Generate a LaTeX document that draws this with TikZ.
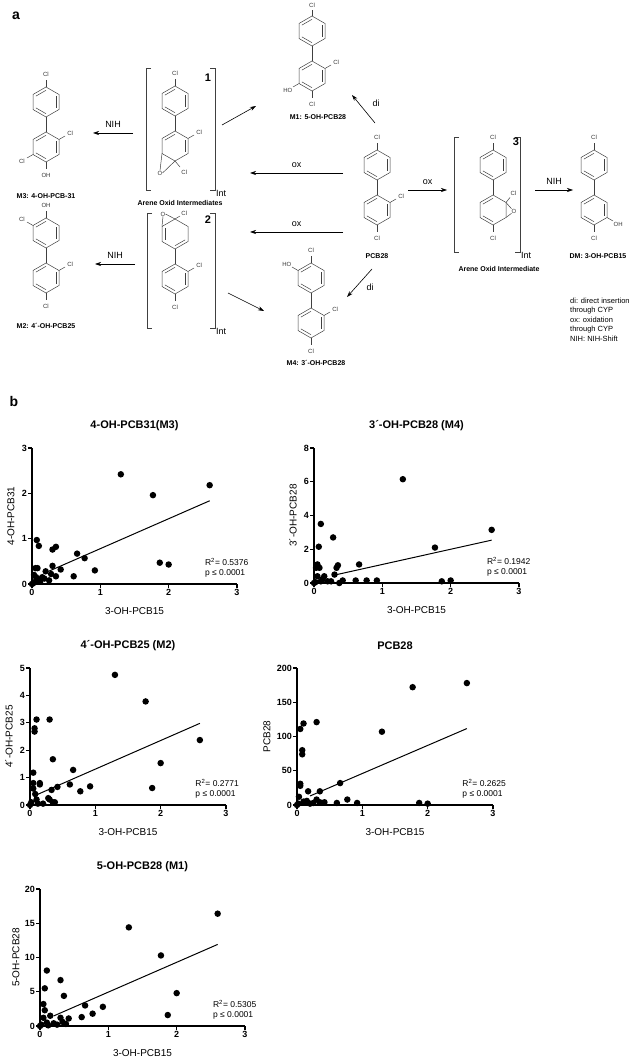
\documentclass[tikz,border=0pt]{standalone}
\usepackage{fontspec}
\setmainfont{Liberation Sans}
\usetikzlibrary{calc,arrows.meta}
\newcommand{\hexring}[3]{%
 \path (#2,#3) coordinate (#1) +(0,-15) coordinate (#1-1) +(13,-7.5) coordinate (#1-2)
   +(13,7.5) coordinate (#1-3) +(0,15) coordinate (#1-4) +(-13,7.5) coordinate (#1-5)
   +(-13,-7.5) coordinate (#1-6);
 \draw[bond] (#1-1)--(#1-2)--(#1-3)--(#1-4)--(#1-5)--(#1-6)--cycle;}
\newcommand{\dbl}[3]{\draw[bond] ($(#1-#2)!0.22!(#1)$) -- ($(#1-#3)!0.22!(#1)$);}
\newcommand{\arom}[1]{\dbl{#1}{2}{3}\dbl{#1}{4}{5}\dbl{#1}{6}{1}}
\newcommand{\subst}[5]{\draw[bond] (#1) -- ++(#2,#3); \node[chem] (#5) at ($(#1)+1.85*(#2,#3)$) {#4};}
\newcommand{\brk}[4]{\draw[bond] (#1+5,#2) -- (#1,#2) -- (#1,#4) -- (#1+5,#4);
 \draw[bond] (#3-5,#2) -- (#3,#2) -- (#3,#4) -- (#3-5,#4);}
\newcommand{\plotaxes}[4]{%
 \draw[axis] (0,#1) -- (0,0) -- (3,0);
 \foreach \t in {0,1,2,3} \draw[axis] (\t,0) -- ++(0pt,-4pt) node[below=-1pt,ticklab] {\t};
 \foreach \t in {0,#2,...,#1} \draw[axis] (0,\t) -- ++(-4pt,0pt) node[left=-1pt,ticklab] {\t};
 \node[axlab] at ($(1.5,0)+(0pt,-27pt)$) {3-OH-PCB15};
 \node[axlab,rotate=90] at ($(0,#1/2)+(-#4pt,0pt)$) {#3};}
\tikzset{
 bond/.style={line width=0.5pt,draw=black!75},
 chem/.style={font=\fontsize{6}{6}\selectfont,inner sep=0pt,text=black!80},
 mlab/.style={font=\bfseries\fontsize{7}{7}\selectfont,inner sep=0pt},
 rlab/.style={font=\fontsize{9}{9}\selectfont,inner sep=0pt},
 num/.style={font=\bfseries\fontsize{11}{11}\selectfont,inner sep=0pt},
 arr/.style={line width=0.6pt,-{Stealth[length=6pt,width=4pt]}},
 axis/.style={line width=1.3pt},
 ticklab/.style={font=\bfseries\fontsize{9}{9}\selectfont,inner sep=1.5pt},
 axlab/.style={font=\fontsize{10}{10}\selectfont,inner sep=0pt},
 ptitle/.style={font=\bfseries\fontsize{11}{11}\selectfont,inner sep=0pt},
 stat/.style={font=\fontsize{8.5}{10}\selectfont,align=left,inner sep=0pt,anchor=south west},
 dot/.style={circle,fill=black,inner sep=0pt,minimum size=6.5pt},
 fitl/.style={line width=1pt},
 leg/.style={font=\fontsize{7.5}{9}\selectfont,align=left,anchor=north west,inner sep=0pt}
}
\begin{document}
\begin{tikzpicture}[x=1pt,y=-1pt]
\useasboundingbox (0,0) rectangle (644,1059);
\node[font=\bfseries\fontsize{14}{14}\selectfont] (pa) at (16,16) {a};
\node[font=\bfseries\fontsize{14}{14}\selectfont] (pb) at (14,401) {b};
% M3
\hexring{m3t}{46}{102}\arom{m3t}\hexring{m3b}{46}{147}\arom{m3b}
\draw[bond] (m3t-4)--(m3b-1);
\subst{m3t-1}{0}{-7}{Cl}{c1}\subst{m3b-2}{6}{-3.5}{Cl}{c2}\subst{m3b-5}{-6}{3.5}{Cl}{c3}\subst{m3b-4}{0}{7}{OH}{c4}
\node[mlab] (m3l) at (46,196) {M3: 4-OH-PCB-31};
% M2
\hexring{m2t}{46}{233}\arom{m2t}\hexring{m2b}{46}{278}\arom{m2b}
\draw[bond] (m2t-4)--(m2b-1);
\subst{m2t-1}{0}{-7}{OH}{c5}\subst{m2t-6}{-6}{-3.5}{Cl}{c6}\subst{m2b-2}{6}{-3.5}{Cl}{c7}\subst{m2b-4}{0}{7}{Cl}{c8}
\node[mlab] (m2l) at (46,326) {M2: 4´-OH-PCB25};
% Int 1
\brk{146}{68}{215}{190}
\hexring{i1t}{175}{101}\arom{i1t}\hexring{i1b}{175}{146}\dbl{i1b}{6}{1}\dbl{i1b}{2}{3}
\draw[bond] (i1t-4)--(i1b-1);
\subst{i1t-1}{0}{-7}{Cl}{c9}\subst{i1b-2}{6}{-3.5}{Cl}{c10}
\node[chem] (o1) at (160,173) {O};
\draw[bond] (i1b-5) -- (o1.north) (o1.east) -- (i1b-4);
\subst{i1b-4}{5}{6}{Cl}{c11}
\node[num] (n1) at (208,78) {1};
\node[rlab,anchor=west] (int1) at (216,193) {Int};
\node[mlab] (aoi) at (180,203) {Arene Oxid Intermediates};
% Int 2
\brk{147}{213}{215}{328}
\hexring{i2t}{175}{234}\dbl{i2t}{5}{6}\dbl{i2t}{3}{4}\hexring{i2b}{175}{279}\arom{i2b}
\draw[bond] (i2t-4)--(i2b-1);
\node[chem] (o2) at (163,214) {O};
\draw[bond] (i2t-6) -- (o2.south) (o2.east) -- (i2t-1);
\subst{i2t-1}{5}{-3}{Cl}{c12}
\subst{i2b-2}{6}{-3.5}{Cl}{c13}\subst{i2b-4}{0}{7}{Cl}{c14}
\node[num] (n2) at (208,220) {2};
\node[rlab,anchor=west] (int2) at (216,331) {Int};
% M1
\hexring{m1t}{312}{31}\arom{m1t}\hexring{m1b}{312}{76}\arom{m1b}
\draw[bond] (m1t-4)--(m1b-1);
\subst{m1t-1}{0}{-6}{Cl}{c15}\subst{m1b-2}{6}{-3.5}{Cl}{c16}\subst{m1b-5}{-6}{3.5}{HO}{c17}\subst{m1b-4}{0}{7}{Cl}{c18}
\node[mlab] (m1l) at (318,117) {M1: 5-OH-PCB28};
% M4
\hexring{m4t}{311}{278}\arom{m4t}\hexring{m4b}{311}{323}\arom{m4b}
\draw[bond] (m4t-4)--(m4b-1);
\subst{m4t-1}{0}{-7}{Cl}{c19}\subst{m4t-6}{-6}{-3.5}{HO}{c20}\subst{m4b-2}{6}{-3.5}{Cl}{c21}\subst{m4b-4}{0}{7}{Cl}{c22}
\node[mlab] (m4l) at (316,363) {M4: 3´-OH-PCB28};
% PCB28
\hexring{pt}{377}{165}\arom{pt}\hexring{pb}{377}{210}\arom{pb}
\draw[bond] (pt-4)--(pb-1);
\subst{pt-1}{0}{-7}{Cl}{c23}\subst{pb-2}{6}{-3.5}{Cl}{c24}\subst{pb-4}{0}{7}{Cl}{c25}
\node[mlab] (pcl) at (377,256) {PCB28};
% Int 3
\brk{454}{137}{520}{252}
\hexring{i3t}{493}{165}\arom{i3t}\hexring{i3b}{493}{210}\dbl{i3b}{6}{1}\dbl{i3b}{4}{5}
\draw[bond] (i3t-4)--(i3b-1);
\subst{i3t-1}{0}{-7}{Cl}{c26}\subst{i3b-2}{4}{-5}{Cl}{c27}\subst{i3b-4}{0}{7}{Cl}{c28}
\node[chem] (o3) at (514,211) {O};
\draw[bond] (i3b-2) -- (o3.north west) (o3.south west) -- (i3b-3);
\node[num] (n3) at (516,142) {3};
\node[rlab,anchor=west] (int3) at (521,255) {Int};
\node[mlab] (aoi3) at (499,269) {Arene Oxid Intermediate};
% DM
\hexring{dt}{594}{165}\arom{dt}\hexring{db}{594}{210}\arom{db}
\draw[bond] (dt-4)--(db-1);
\subst{dt-1}{0}{-7}{Cl}{c29}\subst{db-3}{6}{3.5}{OH}{c30}\subst{db-4}{0}{7}{Cl}{c31}
\node[mlab] (dml) at (598,256) {DM: 3-OH-PCB15};
% arrows
\coordinate (a1s) at (133,133); \coordinate (a1e) at (93,133);
\draw[arr] (a1s) -- (a1e) node[rlab,midway,above=5pt] {NIH};
\coordinate (a2s) at (135,264); \coordinate (a2e) at (95,264);
\draw[arr] (a2s) -- (a2e) node[rlab,midway,above=5pt] {NIH};
\coordinate (a3s) at (222,125); \coordinate (a3e) at (256,106);
\draw[arr] (a3s) -- (a3e);
\coordinate (a4s) at (343,173); \coordinate (a4e) at (250,173);
\draw[arr] (a4s) -- (a4e) node[rlab,midway,above=5pt] {ox};
\coordinate (a5s) at (343,232); \coordinate (a5e) at (250,232);
\draw[arr] (a5s) -- (a5e) node[rlab,midway,above=5pt] {ox};
\coordinate (a6s) at (228,293); \coordinate (a6e) at (264,311);
\draw[arr] (a6s) -- (a6e);
\coordinate (a7s) at (375,123); \coordinate (a7e) at (352,95);
\draw[arr] (a7s) -- (a7e); \node[rlab] (di1) at (376,103) {di};
\coordinate (a8s) at (372,269); \coordinate (a8e) at (347,297);
\draw[arr] (a8s) -- (a8e); \node[rlab] (di2) at (370,287) {di};
\coordinate (a9s) at (408,190); \coordinate (a9e) at (447,190);
\draw[arr] (a9s) -- (a9e) node[rlab,midway,above=5pt] {ox};
\coordinate (a10s) at (535,190); \coordinate (a10e) at (573,190);
\draw[arr] (a10s) -- (a10e) node[rlab,midway,above=5pt] {NIH};
\node[leg] (lg) at (570,298) {di: direct insertion\\through CYP\\[1pt]ox: oxidation\\through CYP\\[1pt]NIH: NIH-Shift};
% ---------- plots
\begin{scope}[shift={(32,584)},x=68.33pt,y=45.33pt]
\plotaxes{3}{1}{4-OH-PCB31}{21}
\node[ptitle] (t1) at ($(1.5,3)+(0pt,22pt)$) {4-OH-PCB31(M3)};
\foreach \a/\b in {1.3/2.42,1.77/1.96,2.6/2.18,1.87/0.47,2.0/0.43,0.92/0.3,0.77/0.57,0.66/0.67,0.61/0.17,0.42/0.32,0.35/0.82,0.3/0.76,0.3/0.4,0.35/0.17,0.25/0.08,0.28/0.22,0.2/0.28,0.07/0.97,0.1/0.84,0.05/0.35,0.08/0.35,0.15/0.15,0.03/0.2,0.05/0.05,0.1/0.1,0.02/0.02,0.12/0.05,0.18/0.12,0.06/0.15,0/0}
 \node[dot] at (\a,\b) {};
\draw[fitl] (0.25,0.285) -- (2.6,1.836);
\node[stat] (s1) at ($(2.53,0)+(0pt,7pt)$) {R\textsuperscript{2}= 0.5376\\p ≤ 0.0001};
\end{scope}
\begin{scope}[shift={(314,583)},x=68.33pt,y=16.875pt]
\plotaxes{8}{2}{3´-OH-PCB28}{21}
\node[ptitle] (t2) at ($(1.5,8)+(0pt,22pt)$) {3´-OH-PCB28 (M4)};
\foreach \a/\b in {1.3/6.15,2.6/3.15,1.77/2.1,1.87/0.1,2.0/0.15,0.92/0.15,0.77/0.15,0.61/0.15,0.66/1.1,0.1/3.5,0.28/2.7,0.07/2.15,0.35/1.05,0.33/0.9,0.05/1.1,0.03/0.9,0.08/0.9,0.3/0.5,0.42/0.15,0.37/0.0,0.15/0.4,0.2/0.1,0.05/0.4,0.1/0.1,0.02/0.05,0.25/0.1,0/0,0.12/0.2}
 \node[dot] at (\a,\b) {};
\draw[fitl] (0.3,0.47) -- (2.6,2.54);
\node[stat] (s2) at ($(2.53,0)+(0pt,7pt)$) {R\textsuperscript{2}= 0.1942\\p ≤ 0.0001};
\end{scope}
\begin{scope}[shift={(30,805)},x=65.33pt,y=27.4pt]
\plotaxes{5}{1}{4´-OH-PCB25}{21}
\node[ptitle] (t3) at ($(1.5,5)+(0pt,22pt)$) {4´-OH-PCB25 (M2)};
\foreach \a/\b in {1.3/4.75,1.77/3.78,2.6/2.37,2.0/1.53,1.87/0.62,0.92/0.68,0.77/0.5,0.66/1.28,0.61/0.75,0.42/0.66,0.35/1.67,0.3/3.12,0.1/3.12,0.07/2.8,0.07/2.68,0.05/1.18,0.15/0.8,0.15/0.75,0.33/0.55,0.3/0.2,0.35/0.1,0.28/0.25,0.2/0.05,0.05/0.8,0.05/0.6,0.08/0.4,0.1/0.2,0.02/0.1,0/0,0.12/0.05,0.38/0.1}
 \node[dot] at (\a,\b) {};
\draw[fitl] (0.1,0.37) -- (2.6,2.98);
\node[stat] (s3) at ($(2.53,0)+(0pt,7pt)$) {R\textsuperscript{2}= 0.2771\\p ≤ 0.0001};
\end{scope}
\begin{scope}[shift={(297,805)},x=65.33pt,y=0.685pt]
\plotaxes{200}{50}{PCB28}{30}
\node[ptitle] (t4) at ($(1.5,200)+(0pt,22pt)$) {PCB28};
\foreach \a/\b in {2.6/178,1.77/172,1.3/107,0.3/121,0.1/119,0.05/111,0.08/80,0.08/74,0.66/32,0.05/31,0.05/28,0.17/20,0.35/20,0.77/8,0.92/3,0.61/3,1.87/3,2.0/2,0.42/4,0.3/8,0.25/3,0.2/2,0.03/12,0.1/5,0.02/2,0/0,0.15/6,0.35/4}
 \node[dot] at (\a,\b) {};
\draw[fitl] (0.2,13.2) -- (2.6,111.6);
\node[stat] (s4) at ($(2.53,0)+(0pt,7pt)$) {R\textsuperscript{2}= 0.2625\\p ≤ 0.0001};
\end{scope}
\begin{scope}[shift={(40,1026)},x=68.33pt,y=6.85pt]
\plotaxes{20}{5}{5-OH-PCB28}{24}
\node[ptitle] (t5) at ($(1.5,20)+(0pt,22pt)$) {5-OH-PCB28 (M1)};
\foreach \a/\b in {2.6/16.4,1.3/14.4,1.77/10.3,2.0/4.8,1.87/1.6,0.92/2.8,0.77/1.8,0.66/3.0,0.61/1.3,0.42/1.1,0.35/4.4,0.3/6.7,0.1/8.1,0.07/5.5,0.05/3.2,0.07/2.3,0.15/1.5,0.3/1.2,0.33/0.6,0.2/0.4,0.05/1.2,0.1/0.5,0.02/0.2,0/0,0.25/0.2,0.38/0.3,0.12/0.1}
 \node[dot] at (\a,\b) {};
\draw[fitl] (0.2,1.47) -- (2.6,11.91);
\node[stat] (s5) at ($(2.53,0)+(0pt,7pt)$) {R\textsuperscript{2}= 0.5305\\p ≤ 0.0001};
\end{scope}
\end{tikzpicture}
\end{document}
